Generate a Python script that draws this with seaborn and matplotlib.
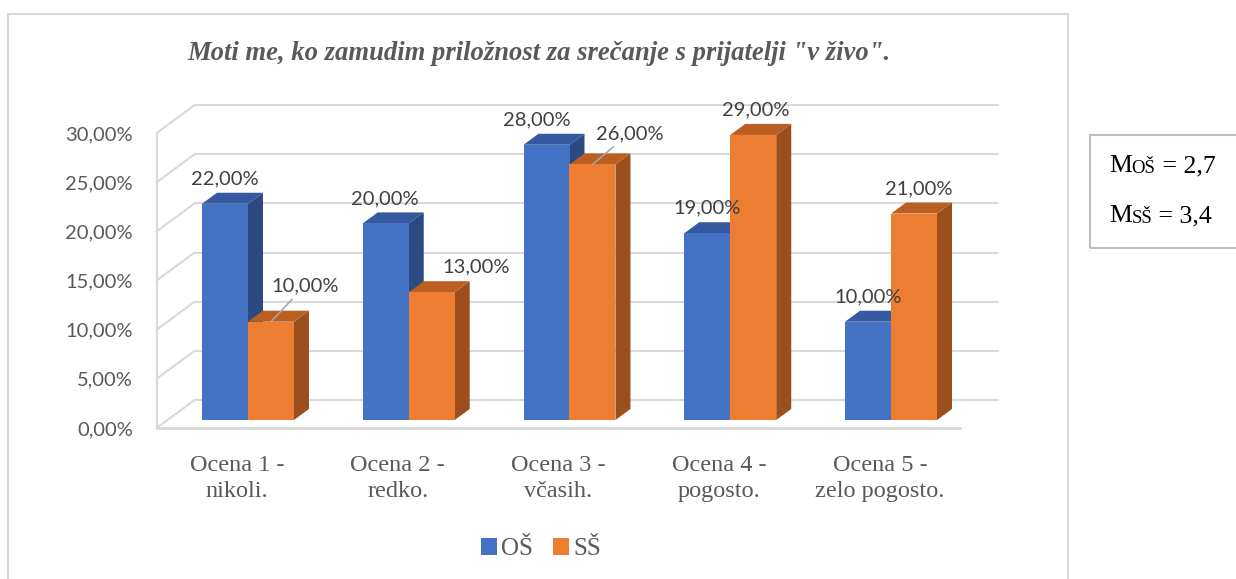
import numpy as np
import pandas as pd
import matplotlib
matplotlib.use("Agg")
import matplotlib.pyplot as plt
import matplotlib.transforms as mtransforms
from matplotlib.patches import Polygon, Rectangle, Patch
from matplotlib.lines import Line2D
from matplotlib.text import Annotation
import seaborn as sns

# ---------------- data ----------------
categories = ["Ocena 1 -\nnikoli.", "Ocena 2 -\nredko.", "Ocena 3 -\nvčasih.",
              "Ocena 4 -\npogosto.", "Ocena 5 -\nzelo pogosto."]
series = ["OŠ", "SŠ"]
values_os = [22, 20, 28, 19, 10]
values_ss = [10, 13, 26, 29, 21]
yticks = [0, 5, 10, 15, 20, 25, 30]
title = 'Moti me, ko zamudim priložnost za srečanje s prijatelji "v živo".'
mean_labels = ["OŠ", "SŠ"]
mean_values = ["2,7", "3,4"]

# ---------------- style ----------------
W, H = 1236, 579
DPI = 100
blue, orange = "#4472C4", "#ED7D31"
blue_top, blue_side = "#3559A0", "#2C4A82"
orange_top, orange_side = "#BA5E21", "#9A4F1D"
grid_c = "#D9D9D9"
txt_c = "#595959"
sans = ["Lato", "DejaVu Sans"]
serif = ["Liberation Serif", "DejaVu Serif"]

sns.set_theme(style="white")
plt.rcParams["font.family"] = sans

fig = plt.figure(figsize=(W / DPI, H / DPI), dpi=DPI)

def fx(x):
    return x / W

def fy(y):
    return 1 - y / H

# axes = front plane of the 3D box
x_left, x_right, y0, y30 = 156.6, 960.4, 428.0, 133.1
ax = fig.add_axes([fx(x_left), fy(y0), (x_right - x_left) / W, (y0 - y30) / H])

df = pd.DataFrame({
    "cat": categories * 2,
    "ser": [series[0]] * 5 + [series[1]] * 5,
    "val": values_os + values_ss,
})
sns.barplot(data=df, x="cat", y="val", hue="ser", palette=[blue, orange],
            width=0.572, gap=0, saturation=1, ax=ax, legend=False,
            errorbar=None, zorder=3)
ax.set_xlim(-0.5, 4.5)
ax.set_ylim(0, 30)
for s in ax.spines.values():
    s.set_visible(False)
ax.set_xlabel("")
ax.set_ylabel("")
ax.grid(False)

# pixel scale of the data coords
pxx = ax.transData.transform((1, 0))[0] - ax.transData.transform((0, 0))[0]
pxy = ax.transData.transform((0, 1))[1] - ax.transData.transform((0, 0))[1]

# back wall / side wall gridlines
bx, by = 38 / pxx, 28 / pxy
for yv in yticks:
    ax.add_line(Line2D([-0.5, -0.5 + bx], [yv, yv + by], color=grid_c, lw=1.5,
                       clip_on=False, zorder=1))
    ax.add_line(Line2D([-0.5 + bx, 4.5 + bx], [yv + by, yv + by], color=grid_c,
                       lw=1.5, clip_on=False, zorder=1))
ax.add_line(Line2D([-0.5, -0.5], [0, 30], color=grid_c, lw=1.5, clip_on=False, zorder=1))
ax.add_line(Line2D([-0.5, 4.5], [0, 0], color=grid_c, lw=2, clip_on=False, zorder=1))

# bars: shift from front plane, plus 3D faces
shift = mtransforms.ScaledTranslation(11 / DPI, 8 / DPI, fig.dpi_scale_trans)
tr = ax.transData + shift
dx, dy = 15 / pxx, 11 / pxy
bars = list(ax.patches)
n = len(categories)
face_cols = [(blue_top, blue_side)] * n + [(orange_top, orange_side)] * n
base_z = [2.0] * n + [2.3] * n

# label offsets in px relative to (bar front centre, bar front top); style only
lab_off = [(0, 25), (-1, 25), (-10, 25), (0, 25), (0, 25),
           (34, 36), (44, 25), (37, 31), (3, 25), (5, 25)]
leader = [False] * 5 + [True, False, True, False, False]

for i, p in enumerate(bars):
    x0, w, h = p.get_x(), p.get_width(), p.get_height()
    p.set_transform(tr)
    p.set_edgecolor("none")
    p.set_zorder(base_z[i] + 0.1)
    p.set_clip_on(False)
    top = Polygon([(x0, h), (x0 + w, h), (x0 + w + dx, h + dy), (x0 + dx, h + dy)],
                  closed=True, facecolor=face_cols[i][0], edgecolor="none",
                  transform=tr, zorder=base_z[i] + 0.05, clip_on=False)
    side = Polygon([(x0 + w, 0), (x0 + w + dx, dy), (x0 + w + dx, h + dy), (x0 + w, h)],
                   closed=True, facecolor=face_cols[i][1], edgecolor="none",
                   transform=tr, zorder=base_z[i], clip_on=False)
    ax.add_patch(top)
    ax.add_patch(side)
    ox, oy = lab_off[i]
    kw = {}
    if leader[i]:
        kw["arrowprops"] = dict(arrowstyle="-", color="#A6A6A6", lw=1.2,
                                shrinkA=2, shrinkB=0)
    ax.annotate(f"{h:.2f}%".replace(".", ","), xy=(x0 + w / 2, h), xycoords=tr,
                xytext=(ox * 0.72, oy * 0.72), textcoords="offset points",
                ha="center", va="center", fontsize=14.5, color="#404040",
                annotation_clip=False, zorder=6, **kw)

# ticks
ax.set_yticks(yticks)
ax.set_yticklabels([f"{v:.2f}%".replace(".", ",") for v in yticks],
                   fontsize=14.5, color=txt_c)
ax.set_xticks(range(n))
ax.set_xticklabels(categories, fontsize=17.5, color=txt_c, family=serif,
                   linespacing=1.32)
ax.tick_params(axis="y", length=0, pad=17)
ax.tick_params(axis="x", length=0, pad=19.5)

# title
fig.text(fx(539), fy(53), title, ha="center", va="center", fontsize=19.2,
         fontweight="bold", fontstyle="italic", color=txt_c, family=serif)

# legend
handles = [Patch(facecolor=blue, edgecolor="none"), Patch(facecolor=orange, edgecolor="none")]
leg = fig.legend(handles, series, loc="center", bbox_to_anchor=(fx(541), fy(549)),
                 ncol=2, frameon=False, handlelength=0.65, handleheight=0.65,
                 handletextpad=0.15, columnspacing=0.8,
                 prop={"family": serif, "size": 18})
for t in leg.get_texts():
    t.set_color(txt_c)

# chart border
fig.add_artist(Rectangle((fx(8), fy(600)), fx(1068) - fx(8), fy(14) - fy(600),
                         transform=fig.transFigure, fill=False,
                         edgecolor=grid_c, lw=1.5, clip_on=False))

# mean box
fig.add_artist(Rectangle((fx(1090), fy(248)), fx(1250) - fx(1090), fy(135) - fy(248),
                         transform=fig.transFigure, fill=False,
                         edgecolor="#BFBFBF", lw=1.5, clip_on=False))
for k, (lab, val) in enumerate(zip(mean_labels, mean_values)):
    ybase = [172, 222][k]
    t1 = fig.text(fx(1109), fy(ybase), "M", ha="left", va="baseline",
                  fontsize=18.5, family=serif, color="black")
    a2 = fig.add_artist(Annotation(
        lab, xy=(1, 0), xycoords=t1, xytext=(0, 0), textcoords="offset points",
        ha="left", va="bottom", fontsize=13.5, family=serif, color="black"))
    fig.add_artist(Annotation(
        f" = {val}", xy=(1, 0), xycoords=a2, xytext=(0, 0),
        textcoords="offset points", ha="left", va="bottom", fontsize=18.5,
        family=serif, color="black"))

fig.savefig("out.png", dpi=DPI)
